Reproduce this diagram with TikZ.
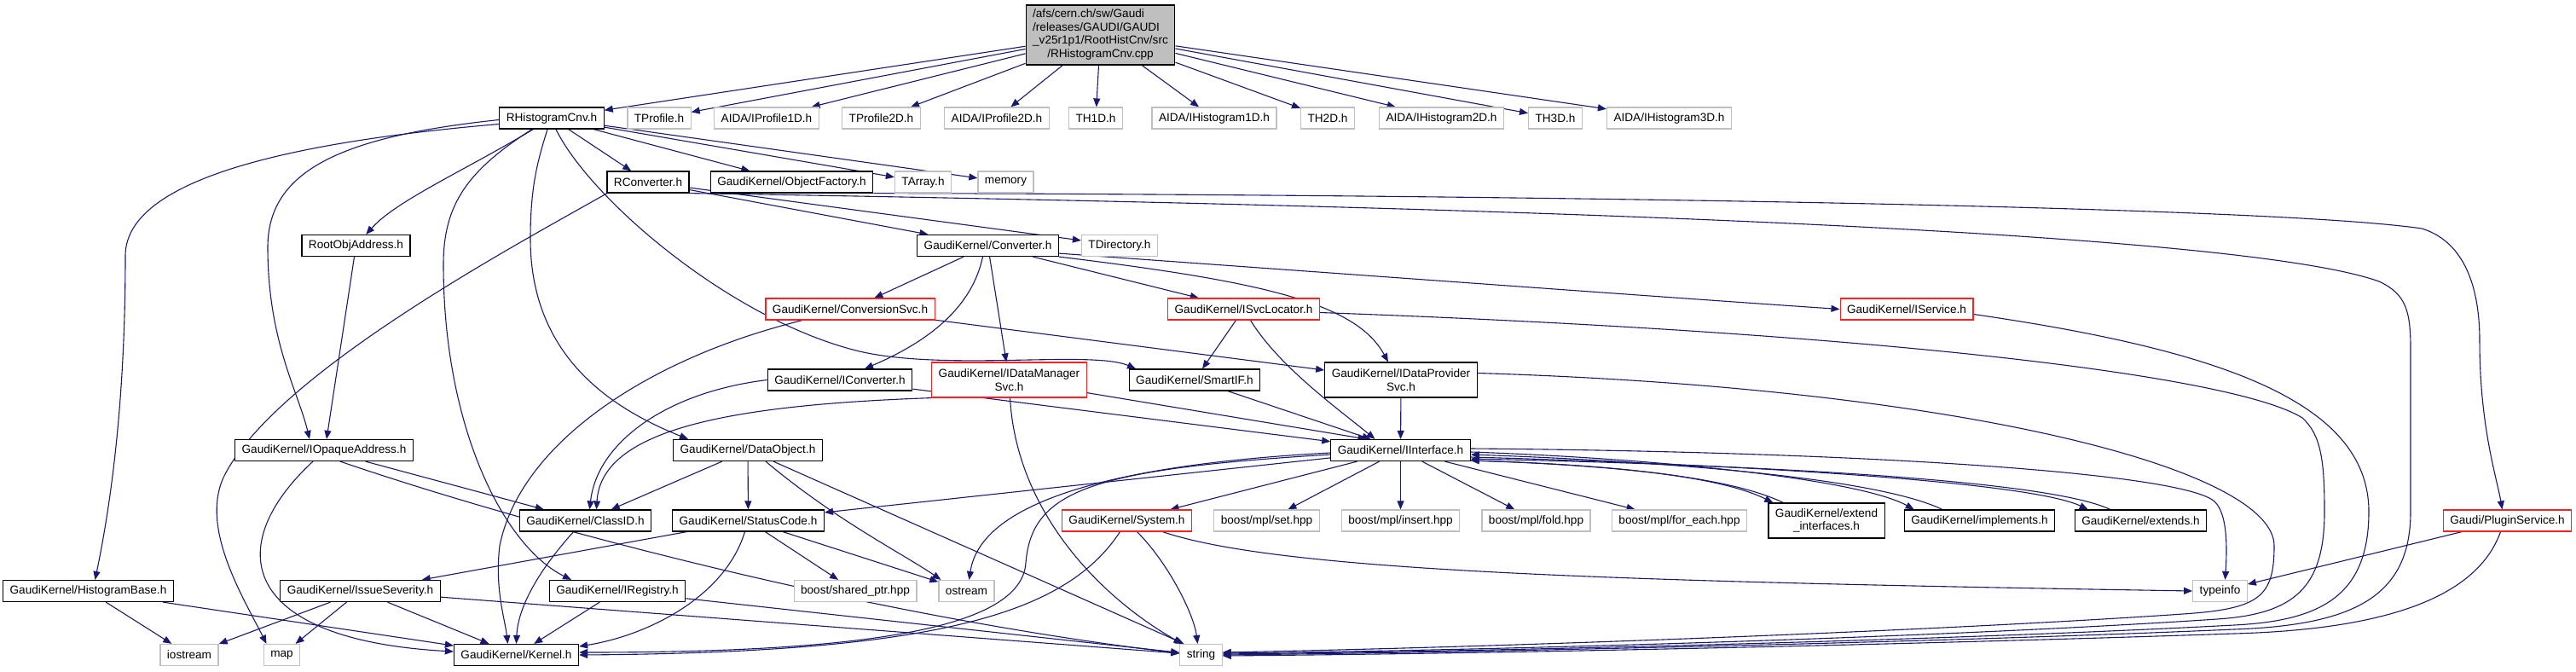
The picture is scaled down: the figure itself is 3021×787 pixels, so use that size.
\documentclass[tikz,border=0pt]{standalone}
\usepackage{fontspec}
\setmainfont{Liberation Sans}
\usetikzlibrary{arrows.meta}
\pgfdeclarelayer{back}
\pgfdeclarelayer{bg}
\pgfsetlayers{back,bg,main}
\definecolor{edgec}{HTML}{191970}
\definecolor{gbord}{HTML}{BFBFBF}
\definecolor{rbord}{HTML}{FF2020}
\tikzset{
  nd/.style={draw=black, line width=1.2pt, rectangle, inner xsep=8pt, inner ysep=0pt,
    minimum height=25pt, font=\fontsize{13.6}{15.5}\selectfont, align=center, fill=white},
  sysnd/.style={nd, draw=gbord},
  trunc/.style={nd, draw=rbord},
  twol/.style={minimum height=41pt},
  rootnd/.style={nd, fill=gbord, minimum height=70pt},
  dep/.style={draw=edgec, line width=1.1pt, -{Triangle[length=10pt,width=8pt]}},
}
\begin{document}
\begin{tikzpicture}[x=1pt,y=-1pt]
\begin{pgfonlayer}{back}
\fill[white] (0,0) rectangle (3021,787);
\end{pgfonlayer}
\useasboundingbox (0,0) rectangle (3021,787);

% row 0
\node[rootnd] (top) at (1290.5,41) {\begin{tabular}{@{}l@{}}/afs/cern.ch/sw/Gaudi\\/releases/GAUDI/GAUDI\\\_v25r1p1/RootHistCnv/src\\\multicolumn{1}{@{}c@{}}{/RHistogramCnv.cpp}\end{tabular}};
% row 1
\node[nd] (rhc) at (647,138.5) {RHistogramCnv.h};
\node[sysnd] (tprof) at (773,138.5) {TProfile.h};
\node[sysnd] (ip1) at (899,138.5) {AIDA/IProfile1D.h};
\node[sysnd] (tp2) at (1033.5,138.5) {TProfile2D.h};
\node[sysnd] (ip2) at (1169,138.5) {AIDA/IProfile2D.h};
\node[sysnd] (th1) at (1285,138.5) {TH1D.h};
\node[sysnd] (ih1) at (1424,138.5) {AIDA/IHistogram1D.h};
\node[sysnd] (th2) at (1557,138.5) {TH2D.h};
\node[sysnd] (ih2) at (1690.5,138.5) {AIDA/IHistogram2D.h};
\node[sysnd] (th3) at (1824,138.5) {TH3D.h};
\node[sysnd] (ih3) at (1957.5,138.5) {AIDA/IHistogram3D.h};
% row 2
\node[nd] (rconv) at (760,213.5) {RConverter.h};
\node[nd] (objf) at (928.5,213.5) {GaudiKernel/ObjectFactory.h};
\node[sysnd] (tarray) at (1082.5,213.5) {TArray.h};
\node[sysnd] (memory) at (1179.5,213.5) {memory};
% row 3
\node[nd] (roa) at (417.5,288) {RootObjAddress.h};
\node[nd] (conv) at (1158.5,288) {GaudiKernel/Converter.h};
\node[sysnd] (tdir) at (1313,288) {TDirectory.h};
% row 4
\node[trunc] (csvc) at (997,362.5) {GaudiKernel/ConversionSvc.h};
\node[trunc] (isl) at (1458.5,362.5) {GaudiKernel/ISvcLocator.h};
\node[trunc] (isvc) at (2236,362.5) {GaudiKernel/IService.h};
% row 5
\node[nd] (iconv) at (985,445.5) {GaudiKernel/IConverter.h};
\node[trunc,twol] (idm) at (1183.5,445.5) {GaudiKernel/IDataManager\\Svc.h};
\node[nd] (smartif) at (1401,445.5) {GaudiKernel/SmartIF.h};
\node[nd,twol] (idp) at (1643,445.5) {GaudiKernel/IDataProvider\\Svc.h};
% row 6
\node[nd] (ioa) at (380,528) {GaudiKernel/IOpaqueAddress.h};
\node[nd] (dobj) at (877,528) {GaudiKernel/DataObject.h};
\node[nd] (iint) at (1642.5,528) {GaudiKernel/IInterface.h};
% row 7
\node[nd] (classid) at (686.5,610.5) {GaudiKernel/ClassID.h};
\node[nd] (sc) at (877.5,610.5) {GaudiKernel/StatusCode.h};
\node[trunc] (sys) at (1321.5,610.5) {GaudiKernel/System.h};
\node[sysnd] (mset) at (1485.5,610.5) {boost/mpl/set.hpp};
\node[sysnd] (mins) at (1642.5,610.5) {boost/mpl/insert.hpp};
\node[sysnd] (mfold) at (1801.5,610.5) {boost/mpl/fold.hpp};
\node[sysnd] (mfe) at (1969.5,610.5) {boost/mpl/for\_each.hpp};
\node[nd,twol] (extif) at (2142,610.5) {GaudiKernel/extend\\\_interfaces.h};
\node[nd] (impl) at (2321.5,610.5) {GaudiKernel/implements.h};
\node[nd] (ext) at (2510.5,610.5) {GaudiKernel/extends.h};
\node[trunc] (plugin) at (2940.5,610.5) {Gaudi/PluginService.h};
% row 8
\node[nd] (hbase) at (103.5,693) {GaudiKernel/HistogramBase.h};
\node[nd] (isev) at (422.5,693) {GaudiKernel/IssueSeverity.h};
\node[nd] (ireg) at (724,693) {GaudiKernel/IRegistry.h};
\node[sysnd] (shptr) at (1003,693) {boost/shared\_ptr.hpp};
\node[sysnd] (ostream) at (1133.5,693) {ostream};
\node[sysnd] (typeinfo) at (2603.5,693) {typeinfo};
% row 9
\node[sysnd] (iostream) at (222,768) {iostream};
\node[sysnd] (map) at (330.5,768) {map};
\node[nd] (kernel) at (605.5,768) {GaudiKernel/Kernel.h};
\node[sysnd] (string) at (1408.5,768) {string};

\begin{pgfonlayer}{bg}
% top file
\foreach \t in {rhc,tprof,ip1,tp2,ip2,th1,ih1,th2,ih2,th3,ih3}
  \draw[dep] (top) -- (\t);

% RHistogramCnv.h
\draw[dep] (rhc) -- (rconv);
\draw[dep] (rhc) -- (objf);
\draw[dep] (rhc) -- (tarray);
\draw[dep] (rhc) -- (memory);
\draw[dep] (rhc) .. controls (545,200) and (465,235) .. (roa);
\draw[dep] ([yshift=-7pt]rhc.west) .. controls (300,170) and (147,220) .. (147,300)
   .. controls (147,480) and (128,600) .. ([xshift=8pt]hbase.north);
\draw[dep] ([yshift=-2pt]rhc.west) .. controls (400,160) and (314,200) .. (314,290)
   .. controls (314,400) and (350,460) .. ([xshift=-17pt]ioa.north);
\draw[dep] ([xshift=-23pt]rhc.south) .. controls (548,200) and (520,240) .. (520,310)
   .. controls (520,500) and (590,640) .. ([xshift=-54pt]ireg.north);
\draw[dep] ([xshift=-5pt]rhc.south) .. controls (630,190) and (622,220) .. (622,280)
   .. controls (622,420) and (720,480) .. ([xshift=-70pt]dobj.north);
\draw[dep] ([xshift=5pt]rhc.south) .. controls (690,230) and (850,370) .. (1000,410)
   .. controls (1100,437) and (1280,410) .. ([xshift=-69pt]smartif.north);

% RConverter.h
\draw[dep] (rconv) -- (conv);
\draw[dep] (rconv) -- (tdir);
\draw[dep] ([xshift=-48pt]rconv.south) .. controls (600,290) and (320,440) .. (262,560)
   .. controls (235,620) and (285,700) .. ([xshift=-18pt]map.north);
\draw[dep] (rconv.south east) .. controls (1500,238) and (2600,262) .. (2790,330)
   .. controls (2822,345) and (2827,365) .. (2827,410) -- (2827,600)
   .. controls (2827,700) and (2760,733) .. (2620,738)
   .. controls (2300,752) and (1800,764) .. (string.east);

% ObjectFactory.h
\draw[dep] (objf.south east) .. controls (1700,228) and (2650,240) .. (2840,268)
   .. controls (2880,280) and (2908,320) .. (2908,400)
   .. controls (2908,500) and (2928,560) .. ([xshift=-6pt]plugin.north);

% RootObjAddress.h
\draw[dep] (roa) -- ([xshift=3pt]ioa.north);

% Converter.h
\draw[dep] (conv) -- (csvc);
\draw[dep] ([xshift=-6pt]conv.south) .. controls (1140,360) and (1090,400) .. ([xshift=29pt]iconv.north);
\draw[dep] (conv) -- (idm);
\draw[dep] (conv) -- (isl);
\draw[dep] (conv.south east) .. controls (1480,330) and (1590,355) .. ([xshift=-15pt]idp.north);
\draw[dep] ([yshift=4pt]conv.south east) .. controls (1700,330) and (2000,352) .. (isvc.west);

% ConversionSvc.h
\draw[dep] (csvc) -- (idp);
\draw[dep] ([xshift=-56pt]csvc.south) .. controls (760,420) and (610,520) .. (586,640)
   .. controls (580,690) and (592,725) .. ([xshift=-10pt]kernel.north);

% ISvcLocator.h
\draw[dep] (isl) -- (smartif);
\draw[dep] ([xshift=8pt]isl.south) .. controls (1500,430) and (1570,480) .. ([xshift=-30pt]iint.north);
\draw[dep] ([yshift=-4pt]isl.east) .. controls (2200,390) and (2620,440) .. (2700,490)
   .. controls (2722,510) and (2726,540) .. (2726,600)
   .. controls (2726,690) and (2690,720) .. (2600,726)
   .. controls (2300,746) and (1800,762) .. ([yshift=2pt]string.east);

% IService.h
\draw[dep] ([yshift=-6pt]isvc.east) .. controls (2600,410) and (2778,470) .. (2778,600)
   .. controls (2778,700) and (2720,728) .. (2620,733)
   .. controls (2300,750) and (1800,763) .. ([yshift=1pt]string.east);

% IConverter.h
\draw[dep] (iconv) -- (iint);
\draw[dep] (iconv.west) .. controls (780,460) and (700,520) .. ([xshift=5pt]classid.north);

% IDataManagerSvc.h
\draw[dep] (idm) -- ([xshift=-40pt]iint.north);
\draw[dep] (idm.south west) .. controls (850,475) and (705,505) .. ([xshift=13pt]classid.north);
\draw[dep] ([xshift=1pt]idm.south) .. controls (1192,600) and (1290,700) .. ([xshift=-22pt]string.north);

% SmartIF.h
\draw[dep] (smartif) -- ([xshift=-35pt]iint.north);

% IDataProviderSvc.h
\draw[dep] (idp) -- (iint);
\draw[dep] ([yshift=8pt]idp.east) .. controls (2300,455) and (2667,550) .. (2667,640)
   .. controls (2667,700) and (2650,714) .. (2560,720)
   .. controls (2300,738) and (1800,758) .. ([yshift=3pt]string.east);

% IOpaqueAddress.h
\draw[dep] (ioa) -- (classid);
\draw[dep] ([xshift=-13pt]ioa.south) .. controls (260,640) and (280,750) .. ([yshift=4pt]kernel.west);
\draw[dep] ([xshift=19pt]ioa.south) .. controls (600,610) and (1000,720) .. ([yshift=2pt]string.west);

% DataObject.h
\draw[dep] (dobj) -- (classid);
\draw[dep] (dobj) -- (sc);
\draw[dep] ([xshift=21pt]dobj.south) .. controls (980,610) and (1060,650) .. ([xshift=-30pt]ostream.north);
\draw[dep] ([xshift=30pt]dobj.south) -- ([xshift=-20pt]string.north);

% StatusCode.h
\draw[dep] (sc) -- (isev);
\draw[dep] (sc) -- (shptr);
\draw[dep] (sc) -- (ostream);
\draw[dep] ([xshift=-4pt]sc.south) .. controls (850,700) and (760,745) .. ([yshift=10pt]kernel.east);

% IInterface.h
\draw[dep] (iint) -- (sys);
\draw[dep] (iint) -- (mset);
\draw[dep] (iint) -- (mins);
\draw[dep] (iint) -- (mfold);
\draw[dep] (iint) -- (mfe);
\draw[dep] (iint) -- (sc);
\draw[dep] ([yshift=-3pt]iint.west) .. controls (1300,545) and (1150,590) .. ([xshift=3pt]ostream.north);
\draw[dep] ([yshift=-5pt]iint.west) .. controls (1280,550) and (1210,575) .. (1203,660)
   .. controls (1198,740) and (1000,765) .. ([yshift=3pt]kernel.east);
\draw[dep] ([yshift=2pt]iint.east) .. controls (2200,530) and (2560,555) .. (2597,588)
   .. controls (2612,602) and (2612,640) .. ([xshift=6pt]typeinfo.north);
\draw[dep] ([yshift=-2pt]iint.east) .. controls (1950,538) and (2180,562) .. ([xshift=12pt]impl.north west);
\draw[dep] ([xshift=45pt]impl.north west) .. controls (2200,560) and (1950,541) .. ([yshift=-5pt]iint.east);
\draw[dep] ([yshift=-8pt]iint.east) .. controls (2050,545) and (2380,565) .. ([xshift=16pt]ext.north west);
\draw[dep] ([xshift=42pt]ext.north west) .. controls (2400,562) and (2050,545) .. ([yshift=-10pt]iint.east);
\draw[dep] ([yshift=-12pt]iint.east) .. controls (1900,545) and (2020,560) .. ([xshift=6pt]extif.north west);
\draw[dep] ([xshift=18pt]extif.north west) .. controls (2030,560) and (1900,546) .. ([yshift=-12pt]iint.east);

% System.h
\draw[dep] ([xshift=-8pt]sys.south) .. controls (1250,720) and (1100,765) .. (kernel.east);
\draw[dep] ([xshift=12pt]sys.south) .. controls (1370,660) and (1400,720) .. ([xshift=-4pt]string.north);
\draw[dep] ([xshift=42pt]sys.south) .. controls (1500,670) and (1900,682) .. (typeinfo.west);

% PluginService.h
\draw[dep] (plugin) -- (typeinfo);
\draw[dep] ([xshift=-8pt]plugin.south) .. controls (2905,700) and (2800,738) .. (2620,743)
   .. controls (2300,754) and (1800,766) .. ([yshift=-1pt]string.east);

% HistogramBase.h
\draw[dep] (hbase) -- (iostream);
\draw[dep] (hbase) -- (kernel);

% IssueSeverity.h
\draw[dep] (isev) -- (iostream);
\draw[dep] (isev) -- (map);
\draw[dep] (isev) -- (kernel);
\draw[dep] (isev) -- (string);

% IRegistry.h
\draw[dep] (ireg) -- (kernel);
\draw[dep] (ireg) -- (string);

% ClassID.h
\draw[dep] ([xshift=-14pt]classid.south) .. controls (622,680) and (607,720) .. (kernel.north);
\end{pgfonlayer}
\end{tikzpicture}
\end{document}
